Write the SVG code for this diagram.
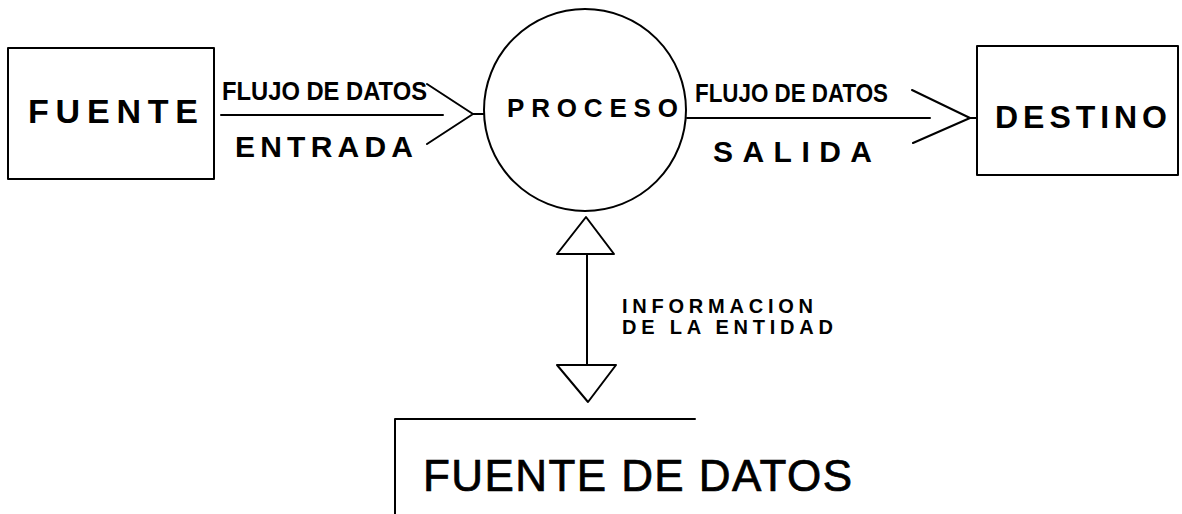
<svg xmlns="http://www.w3.org/2000/svg" width="1182" height="514" viewBox="0 0 1182 514">
<style>
.ln{fill:none;stroke:#000;stroke-width:2;stroke-linecap:round;stroke-linejoin:round}
.t{font-family:"Liberation Sans",Arial,sans-serif;fill:#000}
.b{font-weight:bold}
</style>
<rect width="1182" height="514" fill="#fff"/>
<g id="fuente">
<rect class="ln" x="8" y="48" width="206" height="131"/>
<text class="t b" x="28" y="123" font-size="34" textLength="170" lengthAdjust="spacing">FUENTE</text>
</g>
<g id="proceso">
<circle class="ln" cx="585" cy="110" r="101"/>
<text class="t b" x="507" y="117" font-size="26" textLength="171" lengthAdjust="spacing">PROCESO</text>
</g>
<g id="destino">
<rect class="ln" x="977" y="46" width="201" height="129"/>
<text class="t b" x="995" y="128" font-size="32" textLength="172" lengthAdjust="spacing">DESTINO</text>
</g>
<g id="fuente-datos">
<path class="ln" d="M695,419 H395 V514"/>
<text class="t" x="423" y="491" font-size="44" textLength="429" lengthAdjust="spacing" stroke="#000" stroke-width="0.7">FUENTE DE DATOS</text>
</g>
<g id="connectors">
<path class="ln" d="M221,115 H443 M427,84 L473,114 L427,144 M473,114 H484"/>
<text class="t b" x="222" y="100" font-size="25" textLength="205" lengthAdjust="spacingAndGlyphs">FLUJO DE DATOS</text>
<text class="t b" x="235" y="157" font-size="30" textLength="178" lengthAdjust="spacing">ENTRADA</text>
<path class="ln" d="M687,118 H930 M912,90 L970,118 L913,143 M970,118 H977"/>
<text class="t b" x="695" y="102" font-size="25" textLength="193" lengthAdjust="spacingAndGlyphs">FLUJO DE DATOS</text>
<text class="t b" x="713" y="162" font-size="30" textLength="159" lengthAdjust="spacing">SALIDA</text>
<path class="ln" d="M586,217 L557,254 H614 Z M587,254 V365 M557,365 H616 L588,402 Z"/>
<text class="t b" x="622" y="313" font-size="20" textLength="191" lengthAdjust="spacing">INFORMACION</text>
<text class="t b" x="622" y="334" font-size="20" textLength="211" lengthAdjust="spacing">DE LA ENTIDAD</text>
</g>
</svg>
